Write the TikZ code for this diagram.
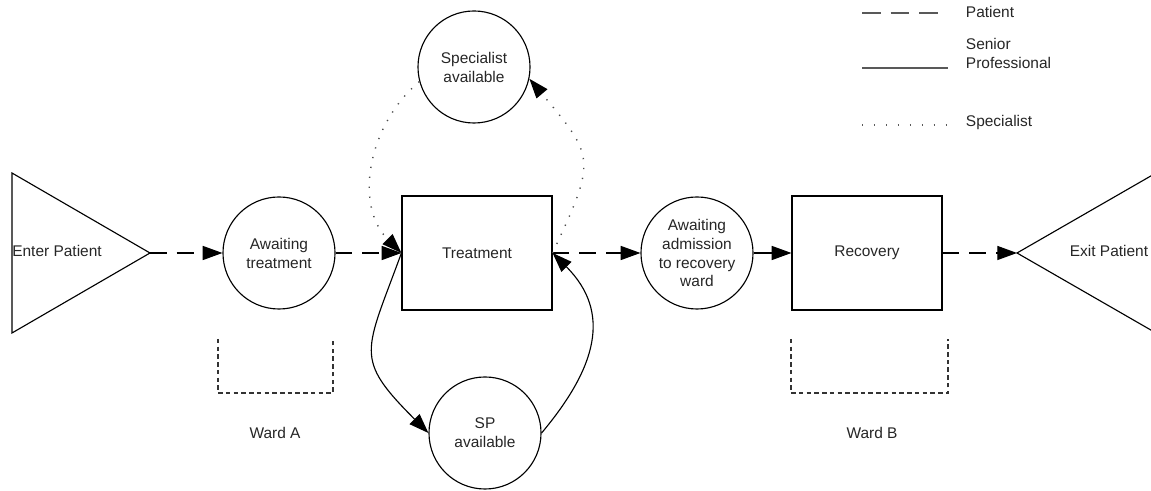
\documentclass[tikz,border=0pt]{standalone}
\usepackage{fontspec}
\setmainfont{Liberation Sans}
\usetikzlibrary{arrows.meta}
\tikzset{
  every node/.append style={font=\fontsize{11}{13.5}\selectfont,text=black!85},
  state/.style={draw,circle,thick,minimum size=2.8cm,inner sep=0pt,align=center},
  stage/.style={draw,rectangle,thick,minimum width=3.75cm,minimum height=2.85cm},
  flow/.style={thick,-{Triangle[length=14pt,width=10pt,black]}},
  patient/.style={dash pattern=on 12pt off 7pt},
  specialist/.style={line width=1pt,dash pattern=on 0.9pt off 6.2pt,draw=black!70},
  ward/.style={line width=0.9pt,dash pattern=on 3.2pt off 2.3pt,draw=black!80},
  key/.style={line width=1.3pt,draw=black!65}
}

\begin{document}
\begin{tikzpicture}[x=0.025cm,y=0.025cm]
  \useasboundingbox (0,0) rectangle (1151,491);

  % entry and exit
  \coordinate (entertip) at (150,238);
  \coordinate (exittip) at (1017,238);
  \draw[thick] (12,318) -- (entertip) -- (12,158) -- cycle;
  \draw[thick] (1156,318) -- (exittip) -- (1156,158);
  \node (enter) at (57,240) {Enter Patient};
  \node (exit) at (1109,240) {Exit Patient};

  % queues and activities
  \node[state] (aw) at (279,238) {Awaiting\\treatment};
  \node[stage] (treat) at (477,238) {Treatment};
  \node[state] (spec) at (474,424) {Specialist\\available};
  \node[state] (sp) at (485,58) {SP\\available};
  \node[state] (adm) at (697,238) {Awaiting\\admission\\to recovery\\ward};
  \node[stage] (rec) at (867,238) {Recovery};

  % patient route
  \draw[flow,patient] (entertip) -- (aw);
  \draw[flow,patient] (aw) -- (treat.west);
  \draw[flow,patient] (treat.east) -- (adm);
  \draw[flow] (adm) -- (rec);
  \draw[flow,patient] (rec) -- (exittip);

  % specialist and senior professional cycles
  \draw[flow,specialist] (spec.195) to[out=220,in=135] (treat.west);
  \draw[flow,specialist] (treat.east) to[out=65,in=-50,looseness=1.5] (spec.-12);
  \draw[flow] (treat.west) to[out=250,in=135,looseness=1.5] (sp.west);
  \draw[flow] (sp.east) to[out=50,in=-45,looseness=1.2] (treat.east);

  % wards
  \draw[ward] (218,152) -- (218,98) -- (333,98) -- (333,152);
  \draw[ward] (791,152) -- (791,98) -- (948,98) -- (948,152);
  \node (warda) at (275,58) {Ward A};
  \node (wardb) at (872,58) {Ward B};

  % key
  \draw[key,dash pattern=on 13.3pt off 7pt] (862,478) coordinate (k1a) -- (938,478) coordinate (k1b);
  \draw[key] (862,423) coordinate (k2a) -- (948,423) coordinate (k2b);
  \draw[key,line width=1pt,dash pattern=on 1pt off 7.5pt] (862,366) coordinate (k3a) -- (948,366) coordinate (k3b);
  \node[anchor=west] (kpat) at (961,479) {Patient};
  \node[anchor=west,align=left] (ksen) at (961,438) {Senior\\Professional};
  \node[anchor=west] (kspec) at (961,368) {Specialist};
\end{tikzpicture}
\end{document}
